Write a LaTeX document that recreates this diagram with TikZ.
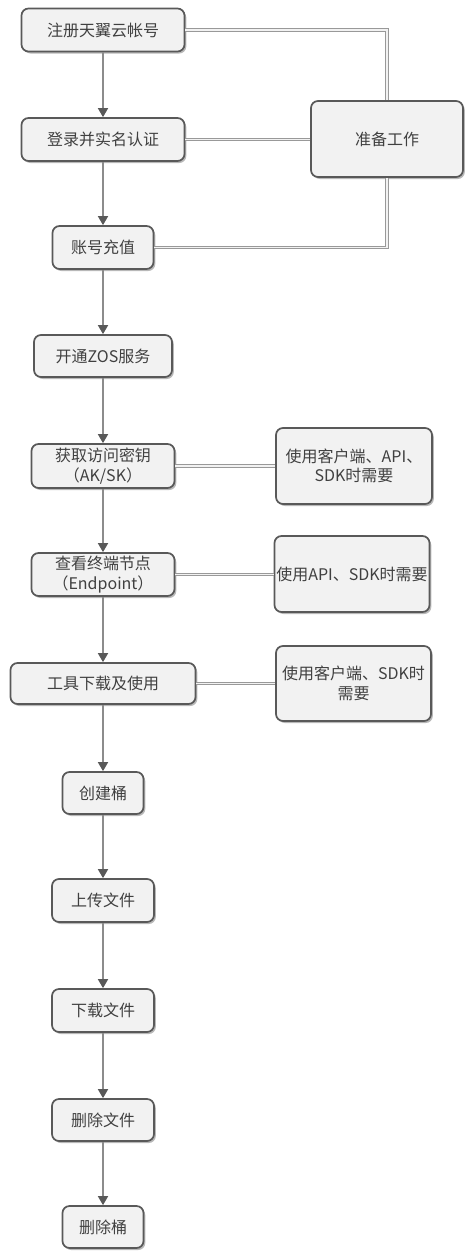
\documentclass[tikz,border=0pt]{standalone}
\usepackage{fontspec}
\setmainfont{Noto Sans CJK SC}
\usepackage{tikz}
\usetikzlibrary{arrows.meta}
\usetikzlibrary{shadows}

\tikzset{
  box/.style={draw=black!65, line width=1.7pt, fill=black!5, rounded corners=7pt,
    text=black!75, align=center, inner sep=0pt,
    font=\fontsize{16}{19.5}\selectfont,
    drop shadow={shadow xshift=1.8pt, shadow yshift=-2pt, fill=black!35, opacity=.8}},
  flow/.style={draw=black!45, line width=1.6pt,
    -{Triangle[length=9pt, width=10pt, color=black!65]}},
  link/.style={draw=black!40, double=black!5, double distance=1.4pt, line width=.9pt}
}

\begin{document}
\begin{tikzpicture}[x=1pt, y=-1pt]
\useasboundingbox (0,0) rectangle (465,1251);
\node[box, minimum width=163pt, minimum height=43pt] (reg) at (103,30) {注册天翼云帐号};
\node[box, minimum width=163pt, minimum height=43pt] (login) at (103,139.5) {登录并实名认证};
\node[box, minimum width=101pt, minimum height=43pt] (pay) at (103,247.5) {账号充值};
\node[box, minimum width=152pt, minimum height=76pt] (prep) at (387,139) {准备工作};
\node[box, minimum width=138pt, minimum height=42pt] (zos) at (103,356) {开通ZOS服务};
\node[box, minimum width=143pt, minimum height=44pt] (key) at (103,466) {获取访问密钥\\（AK/SK）};
\node[box, minimum width=156pt, minimum height=76pt] (keynote) at (354,466) {使用客户端、API、\\SDK时需要};
\node[box, minimum width=143pt, minimum height=43pt] (endp) at (103,574.5) {查看终端节点\\（Endpoint）};
\node[box, minimum width=155pt, minimum height=76pt] (endpnote) at (352,574) {使用API、SDK时需要};
\node[box, minimum width=185pt, minimum height=41pt] (tool) at (103,683.5) {工具下载及使用};
\node[box, minimum width=155pt, minimum height=75pt] (toolnote) at (353.5,683.5) {使用客户端、SDK时\\需要};
\node[box, minimum width=81pt, minimum height=42pt] (bucket) at (103,793) {创建桶};
\node[box, minimum width=102pt, minimum height=43pt] (up) at (103,900.5) {上传文件};
\node[box, minimum width=102pt, minimum height=43pt] (down) at (103,1010.5) {下载文件};
\node[box, minimum width=102pt, minimum height=42pt] (del) at (103,1120) {删除文件};
\node[box, minimum width=81pt, minimum height=42pt] (delb) at (103,1227) {删除桶};
\foreach \a/\b in {reg/login,login/pay,pay/zos,zos/key,key/endp,endp/tool,tool/bucket,bucket/up,up/down,down/del,del/delb}
  {\draw[flow] (\a) -- (\b);}
\draw[link] (reg.east) -| (prep.north);
\draw[link] (login.east) -- (login.east -| prep.west);
\draw[link] (pay.east) -| (prep.south);
\draw[link] (key.east) -- (key.east -| keynote.west);
\draw[link] (endp.east) -- (endp.east -| endpnote.west);
\draw[link] (tool.east) -- (tool.east -| toolnote.west);
\end{tikzpicture}
\end{document}
